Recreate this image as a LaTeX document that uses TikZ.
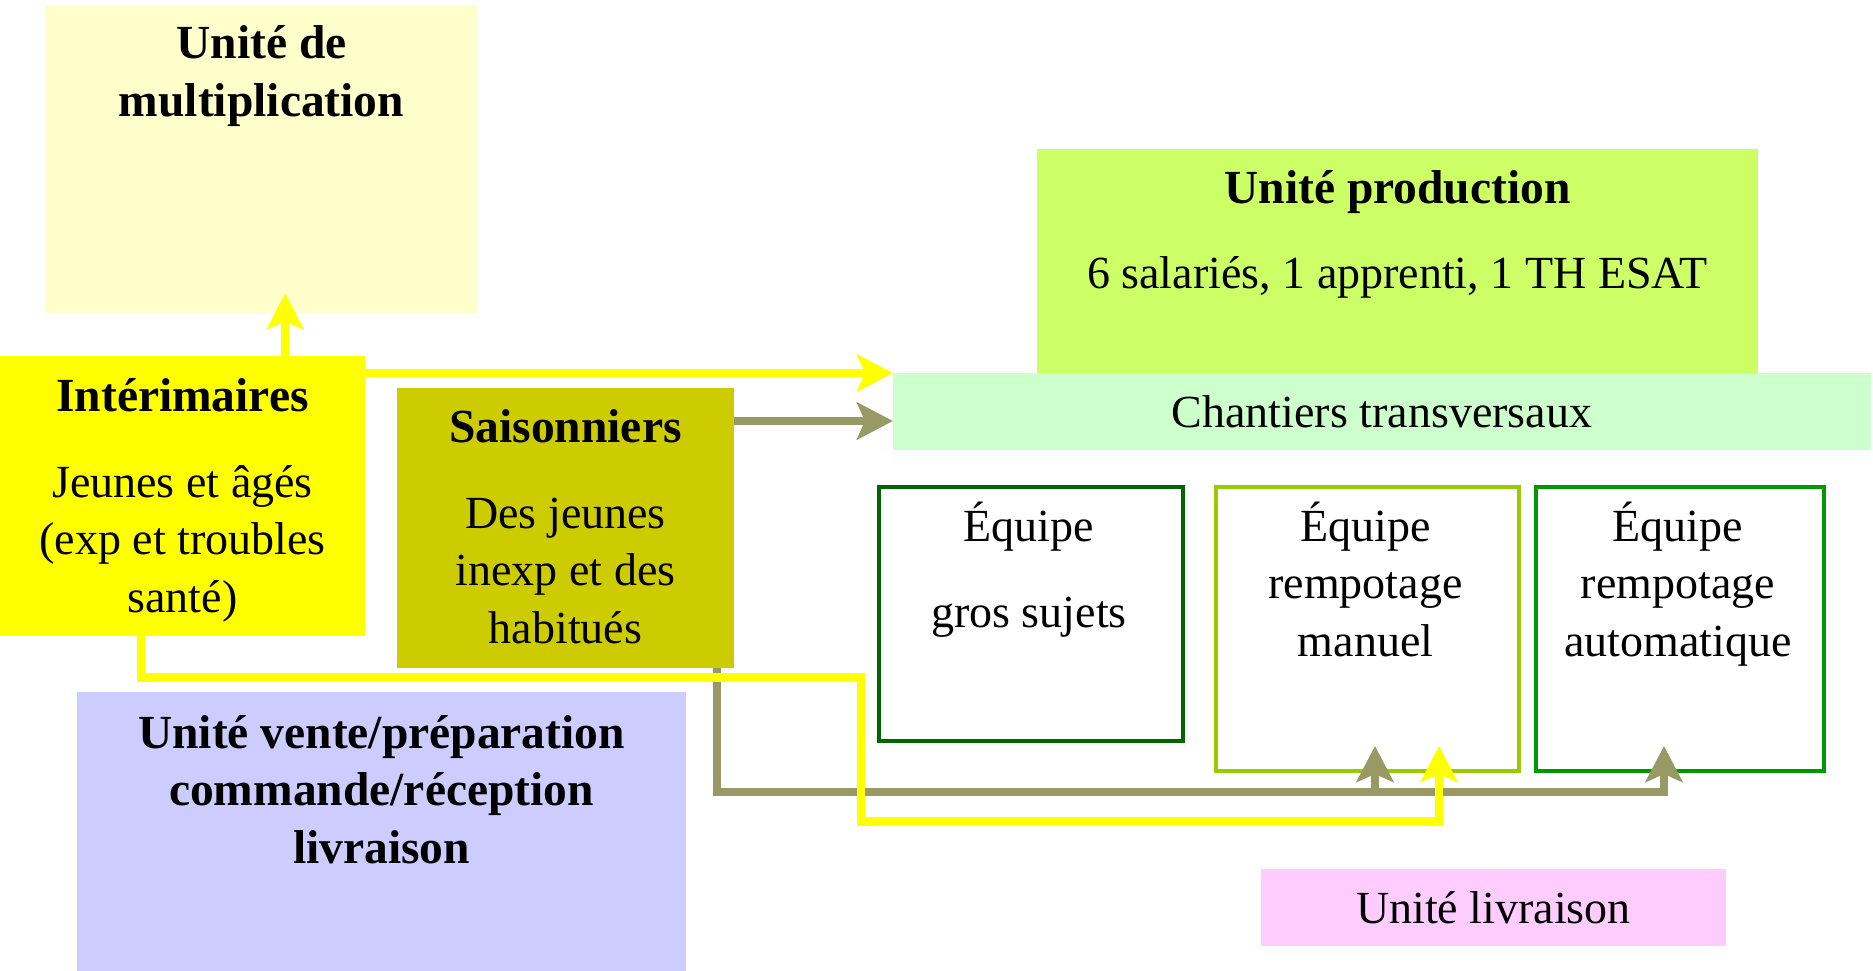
\documentclass[tikz,border=0pt]{standalone}
\usepackage{fontspec}
\setmainfont{Liberation Serif}
\usetikzlibrary{arrows.meta,calc}
\definecolor{cMult}{HTML}{FFFFCC}
\definecolor{cInter}{HTML}{FFFF00}
\definecolor{cSais}{HTML}{CCCC00}
\definecolor{cVente}{HTML}{CCCCFF}
\definecolor{cProd}{HTML}{CCFF66}
\definecolor{cChant}{HTML}{CCFFCC}
\definecolor{cLivr}{HTML}{FFCCFF}
\definecolor{cGros}{HTML}{006600}
\definecolor{cMan}{HTML}{99CC00}
\definecolor{cAuto}{HTML}{009900}
\definecolor{cOlive}{HTML}{999966}
\definecolor{cYel}{HTML}{FFFF00}
\newcommand\mylines[1]{\begin{tabular}[t]{@{}c@{}}#1\end{tabular}}
\tikzset{
  fillbox/.style={rectangle,draw=none,inner sep=0pt,anchor=north west},
  teambox/.style={rectangle,fill=white,line width=4pt,inner sep=0pt,anchor=north west},
  ttl/.style={anchor=base,inner sep=0pt,font=\fontsize{47.5}{57.5}\selectfont\bfseries},
  txt/.style={anchor=base,inner sep=0pt,font=\fontsize{46}{57.5}\selectfont},
  tip/.style={-{Stealth[length=36pt,width=37pt,inset=8pt]}},
  yarr/.style={draw=cYel,line width=8.5pt,tip},
  oarr/.style={draw=cOlive,line width=8pt,tip},
}
\begin{document}
\begin{tikzpicture}[x=1pt,y=-1pt]
\useasboundingbox (0,0) rectangle (1873,971);
% boxes
\node[fillbox,fill=cMult,minimum width=433pt,minimum height=308pt] (mult) at (45,5) {};
\node[fillbox,fill=cInter,minimum width=365pt,minimum height=280pt] (inter) at (0,356) {};
\node[fillbox,fill=cSais,minimum width=337pt,minimum height=280pt] (sais) at (397,388) {};
\node[fillbox,fill=cVente,minimum width=609pt,minimum height=279pt] (vente) at (77,692) {};
\node[fillbox,fill=cProd,minimum width=721pt,minimum height=224pt] (prod) at (1037,149) {};
\node[fillbox,fill=cChant,minimum width=978pt,minimum height=77pt] (chant) at (893,373) {};
\node[teambox,draw=cGros,minimum width=304pt,minimum height=254pt] (gros) at (877,485) {};
\node[teambox,draw=cMan,minimum width=303pt,minimum height=284pt] (manuel) at (1214,485) {};
\node[teambox,draw=cAuto,minimum width=288pt,minimum height=284pt] (auto) at (1534,485) {};
\node[fillbox,fill=cLivr,minimum width=465pt,minimum height=77pt] (livr) at (1261,869) {};
% texts
\node[ttl] (tmult) at (261.5,59) {\mylines{Unité de\\multiplication}};
\node[ttl] (tinter) at (182.5,411) {Intérimaires};
\node[txt] (binter) at (182.5,497) {\mylines{Jeunes et âgés\\(exp et troubles\\santé)}};
\node[ttl] (tsais) at (565.5,442) {Saisonniers};
\node[txt] (bsais) at (565.5,528) {\mylines{Des jeunes\\inexp et des\\habitués}};
\node[ttl] (tvente) at (381.5,748) {\mylines{Unité vente/préparation\\commande/réception\\livraison}};
\node[ttl] (tprod) at (1397.5,203) {Unité production};
\node[txt] (bprod) at (1397.5,288) {6 salariés, 1 apprenti, 1 TH ESAT};
\node[txt] (tchant) at (1382,427) {Chantiers transversaux};
\node[txt] (tgros1) at (1029,541) {Équipe};
\node[txt] (tgros2) at (1029,627) {gros sujets};
\node[txt] (tman) at (1365.5,541) {\mylines{Équipe\\rempotage\\manuel}};
\node[txt] (tauto) at (1678,541) {\mylines{Équipe\\rempotage\\automatique}};
\node[txt] (tlivr) at (1493.5,923) {Unité livraison};
% olive connectors
\coordinate (s1) at ([yshift=-33pt]sais.north east);
\draw[oarr] (s1) -- (s1 -| chant.west);
\coordinate (ob) at ([xshift=-17pt]sais.south east);
\draw[oarr] (ob) |- ([xshift=-16pt,yshift=-19pt]auto.south) -- ([xshift=-16pt,yshift=27pt]auto.south);
\draw[oarr] ([xshift=7.5pt,yshift=-19pt]manuel.south) -- ([xshift=7.5pt,yshift=27pt]manuel.south);
% yellow connectors
\draw[yarr] ([xshift=102.5pt]inter.north) -- ([xshift=23.5pt,yshift=20pt]mult.south);
\draw[yarr] (inter.east |- chant.north west) -- (chant.north west);
\coordinate (yA) at ([xshift=-41.5pt]inter.south);
\draw[yarr] (yA) -- ++(0,41) -- ++(720,0) -- ++(0,144) -| ([xshift=71.5pt,yshift=27pt]manuel.south);
\end{tikzpicture}
\end{document}
